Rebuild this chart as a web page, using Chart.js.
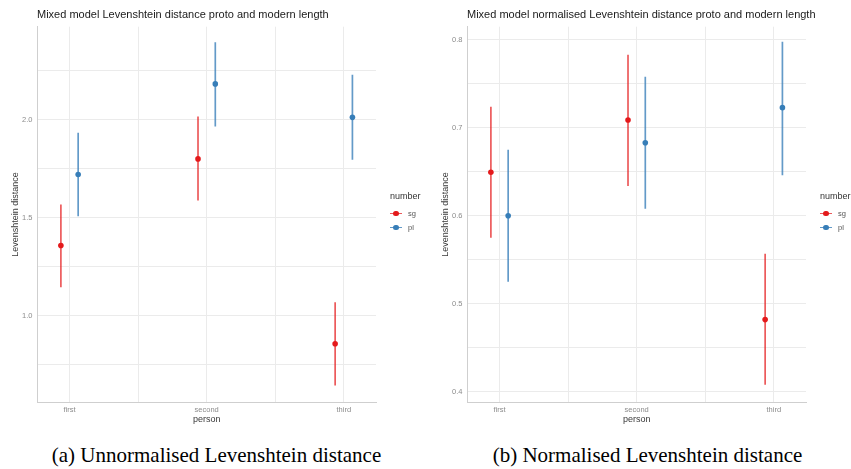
<!DOCTYPE html>
<html>
<head>
<meta charset="utf-8">
<script src="https://cdn.jsdelivr.net/npm/chart.js@4/dist/chart.umd.min.js"></script>
<style>
  html, body { margin: 0; padding: 0; background: #fff; }
  body { width: 851px; height: 469px; position: relative; overflow: hidden; font-family: "Liberation Sans", Arial, sans-serif; }
  canvas.panel { position: absolute; top: 0; }
  .ptitle { position: absolute; top: 8px; font-size: 11px; line-height: 13px; color: #1a1a1a; white-space: nowrap; }
  .legend { position: absolute; font-size: 9px; color: #333; }
  .legend .lt { position: absolute; left: 0; top: 0; white-space: nowrap; line-height: 11px; }
  .legend .row { position: absolute; left: 0; height: 10px; width: 40px; }
  .legend .ln { position: absolute; left: 0; top: 4px; width: 12px; height: 1.7px; }
  .legend .dot { position: absolute; left: 3.2px; top: 2.1px; width: 5.6px; height: 5.6px; border-radius: 50%; }
  .legend .lbl { position: absolute; left: 18px; top: 0; font-size: 7.5px; line-height: 10px; color: #555; }
  .caption { position: absolute; top: 445px; font-family: "Liberation Serif", "Times New Roman", serif; font-size: 21px; line-height: 21px; color: #000; white-space: nowrap; transform: translateX(-50%); }
</style>
</head>
<body>
<canvas id="c1" class="panel" width="425" height="432" style="left:0;width:425px;height:432px"></canvas>
<canvas id="c2" class="panel" width="426" height="432" style="left:425px;width:426px;height:432px"></canvas>
<div class="ptitle" style="left:37px">Mixed model Levenshtein distance proto and modern length</div>
<div class="ptitle" style="left:467px">Mixed model normalised Levenshtein distance proto and modern length</div>
<div id="leg1" class="legend" style="left:390px;top:191px"></div>
<div id="leg2" class="legend" style="left:820px;top:191px"></div>
<div class="caption" style="left:216.5px">(a) Unnormalised Levenshtein distance</div>
<div class="caption" style="left:647.5px">(b) Normalised Levenshtein distance</div>
<script>
// ---- data ----
const persons = ['first', 'second', 'third'];
const numbers = ['sg', 'pl'];
const xGridValues = [1, 1.5, 2, 2.5, 3];

// (a) unnormalised Levenshtein distance
const rawSgEst  = [1.359, 1.801, 0.857];
const rawSgLow  = [1.146, 1.588, 0.644];
const rawSgHigh = [1.568, 2.017, 1.069];
const rawPlEst  = [1.721, 2.184, 2.013];
const rawPlLow  = [1.508, 1.967, 1.796];
const rawPlHigh = [1.934, 2.396, 2.230];
const rawYTicks  = [0.75, 1.0, 1.25, 1.5, 1.75, 2.0, 2.25];
const rawYLabels = [1.0, 1.5, 2.0];

// (b) normalised Levenshtein distance
const normSgEst  = [0.6495, 0.709, 0.482];
const normSgLow  = [0.575, 0.634, 0.408];
const normSgHigh = [0.724, 0.783, 0.557];
const normPlEst  = [0.600, 0.683, 0.723];
const normPlLow  = [0.525, 0.608, 0.646];
const normPlHigh = [0.675, 0.758, 0.798];
const normYTicks  = [0.4, 0.45, 0.5, 0.55, 0.6, 0.65, 0.7, 0.75, 0.8];
const normYLabels = [0.4, 0.5, 0.6, 0.7, 0.8];

// ---- style ----
const RED = '#E41A1C', BLUE = '#377EB8';
const RED_LINE = 'rgba(228,26,28,0.72)', BLUE_LINE = 'rgba(55,126,184,0.78)';
const DODGE = 0.063;
const GRID = '#ebebeb';

function errorData(low, high, off) {
  const out = [];
  persons.forEach((p, i) => {
    const x = i + 1 + off;
    out.push({x: x, y: low[i]}, {x: x, y: high[i]}, {x: x, y: null});
  });
  return out;
}
function pointData(est, off) {
  return persons.map((p, i) => ({x: i + 1 + off, y: est[i]}));
}

function makeChart(id, cfg) {
  const ctx = document.getElementById(id).getContext('2d');
  return new Chart(ctx, {
    type: 'scatter',
    data: {
      datasets: [
        {label: 'sg-ci', data: errorData(cfg.sgLow, cfg.sgHigh, -DODGE), showLine: true, spanGaps: false,
         borderColor: RED_LINE, borderWidth: 1.7, pointRadius: 0, pointHoverRadius: 0},
        {label: 'pl-ci', data: errorData(cfg.plLow, cfg.plHigh, DODGE), showLine: true, spanGaps: false,
         borderColor: BLUE_LINE, borderWidth: 1.7, pointRadius: 0, pointHoverRadius: 0},
        {label: 'sg', data: pointData(cfg.sgEst, -DODGE), showLine: false,
         backgroundColor: RED, borderColor: RED, borderWidth: 0, pointRadius: 2.8},
        {label: 'pl', data: pointData(cfg.plEst, DODGE), showLine: false,
         backgroundColor: BLUE, borderColor: BLUE, borderWidth: 0, pointRadius: 2.8}
      ]
    },
    options: {
      responsive: false,
      animation: false,
      devicePixelRatio: 1,
      layout: {padding: {top: 26.7, right: cfg.padRight, bottom: 0, left: 0}},
      plugins: {legend: {display: false}, tooltip: {enabled: false}, title: {display: false}},
      scales: {
        x: {
          type: 'linear',
          min: 1 - 0.235, max: 3 + 0.235,
          afterBuildTicks: s => { s.ticks = xGridValues.map(v => ({value: v})); },
          afterFit: s => { s.height = 29.7; },
          grid: {color: GRID, lineWidth: 1, drawTicks: false},
          border: {display: true, color: '#cfcfcf', width: 1},
          ticks: {
            autoSkip: false, maxRotation: 0, padding: 3.5,
            font: {family: 'Liberation Sans', size: 7.5}, color: '#8c8c8c',
            callback: v => Number.isInteger(v) ? persons[v - 1] : ''
          },
          title: {display: true, text: 'person', font: {family: 'Liberation Sans', size: 9}, color: '#3a3a3a',
                  padding: {top: 0, bottom: 7.5}}
        },
        y: {
          type: 'linear',
          min: cfg.yMin, max: cfg.yMax,
          afterBuildTicks: s => { s.ticks = cfg.yTicks.map(v => ({value: v})); },
          afterFit: s => { s.width = cfg.yWidth; },
          grid: {color: GRID, lineWidth: 1, drawTicks: false},
          border: {display: true, color: '#cfcfcf', width: 1},
          ticks: {
            autoSkip: false, padding: 4.8,
            font: {family: 'Liberation Sans', size: 7.5}, color: '#8c8c8c',
            callback: v => cfg.yLabels.some(l => Math.abs(l - v) < 1e-9) ? v.toFixed(1) : ''
          },
          title: {display: true, text: 'Levenshtein distance', font: {family: 'Liberation Sans', size: 9}, color: '#3a3a3a',
                  padding: {top: cfg.yTitlePad, bottom: 0}}
        }
      }
    }
  });
}

makeChart('c1', {
  sgEst: rawSgEst, sgLow: rawSgLow, sgHigh: rawSgHigh,
  plEst: rawPlEst, plLow: rawPlLow, plHigh: rawPlHigh,
  yMin: 0.558, yMax: 2.476, yTicks: rawYTicks, yLabels: rawYLabels,
  yWidth: 37.3, padRight: 49, yTitlePad: 10
});
makeChart('c2', {
  sgEst: normSgEst, sgLow: normSgLow, sgHigh: normSgHigh,
  plEst: normPlEst, plLow: normPlLow, plHigh: normPlHigh,
  yMin: 0.388, yMax: 0.815, yTicks: normYTicks, yLabels: normYLabels,
  yWidth: 42.3, padRight: 45, yTitlePad: 15.6
});

// legends
function buildLegend(id) {
  const el = document.getElementById(id);
  const colors = {sg: RED, pl: BLUE};
  const lines = {sg: RED_LINE, pl: BLUE_LINE};
  let html = '<div class="lt">number</div>';
  numbers.forEach((n, i) => {
    html += '<div class="row" style="top:' + (17.5 + i * 14) + 'px">' +
      '<div class="ln" style="background:' + lines[n] + '"></div>' +
      '<div class="dot" style="background:' + colors[n] + '"></div>' +
      '<div class="lbl">' + n + '</div></div>';
  });
  el.innerHTML = html;
}
buildLegend('leg1');
buildLegend('leg2');
</script>
</body>
</html>
